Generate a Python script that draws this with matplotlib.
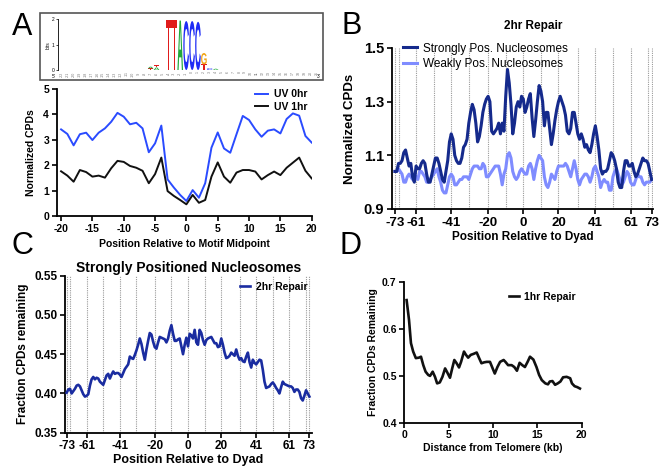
import matplotlib
matplotlib.use("Agg")
import matplotlib.pyplot as plt
import numpy as np
from matplotlib.textpath import TextPath
from matplotlib.patches import PathPatch, Rectangle
from matplotlib.font_manager import FontProperties
import matplotlib.transforms as mtransforms
from matplotlib.ticker import FormatStrFormatter

plt.rcParams['font.family'] = ['Liberation Sans', 'DejaVu Sans']
plt.rcParams['font.weight'] = 'bold'
plt.rcParams['axes.labelweight'] = 'bold'
plt.rcParams['axes.unicode_minus'] = False

W, H = 663, 468

# ---------------- data ----------------
# Panel A logo
logo_pos = [15, 15, 16, 16, 18, 19, 20, 21, 22, 23, 24, 24, 25, 26]
logo_letter = ['T', 'A', 'A', 'T', 'T', 'T', 'A', 'C', 'C', 'C', 'T', 'G', 'C', 'A']
logo_height = [0.06, 0.07, 0.10, 0.08, 1.97, 1.97, 1.95, 1.93, 1.93, 1.90, 0.22, 0.45, 0.07, 0.05]
logo_colors = {'A': '#22a83a', 'C': '#1e2cf5', 'G': '#f2a516', 'T': '#e01b1b'}
logo_labels = [str(i) for i in range(-22, 22)]

# Panel A lines
a_x = list(range(-20, 21))
a_uv0 = [3.41, 3.23, 2.78, 3.22, 3.28, 2.99, 3.28, 3.45, 3.71, 4.06, 3.91, 3.61, 3.67, 3.45,
         2.51, 2.86, 3.56, 1.44, 1.12, 0.83, 0.59, 1.02, 0.72, 1.29, 2.69, 3.29, 2.66, 2.49,
         3.22, 3.94, 3.78, 3.41, 3.12, 3.36, 3.41, 3.25, 3.82, 4.04, 3.95, 3.15, 2.89]
a_uv1 = [1.76, 1.59, 1.35, 1.81, 1.73, 1.55, 1.59, 1.51, 1.88, 2.17, 2.13, 1.97, 1.90, 1.78,
         1.29, 1.65, 2.30, 0.98, 0.79, 0.63, 0.46, 0.83, 0.52, 0.63, 1.55, 2.11, 1.55, 1.31,
         1.71, 1.81, 1.81, 1.75, 1.44, 1.61, 1.75, 1.61, 1.90, 2.10, 2.30, 1.78, 1.48]

# Panel B / C positions
dyad_x = list(range(-73, 74))
dyad_ticks = [-73, -61, -41, -20, 0, 20, 41, 61, 73]
dyad_grid = [-73, -71, -61, -51, -41, -31, -20, -10, 0, 10, 20, 31, 41, 51, 61, 71, 73]

b_strong = [1.04, 1.04, 1.07, 1.07, 1.08, 1.11, 1.12, 1.09, 1.06, 1.07,
            1.02, 1.00, 1.06, 1.05, 1.05, 1.07, 1.08, 1.07, 1.03, 1.00,
            1.00, 1.03, 1.06, 1.09, 1.09, 1.07, 1.04, 1.01, 1.00, 1.04,
            1.08, 1.15, 1.18, 1.16, 1.10, 1.08, 1.07, 1.07, 1.09, 1.13,
            1.14, 1.16, 1.22, 1.26, 1.29, 1.27, 1.22, 1.15, 1.17, 1.21,
            1.26, 1.29, 1.31, 1.32, 1.30, 1.19, 1.18, 1.19, 1.20, 1.22,
            1.18, 1.22, 1.19, 1.32, 1.42, 1.37, 1.29, 1.18, 1.22, 1.28,
            1.30, 1.28, 1.32, 1.31, 1.26, 1.28, 1.31, 1.33, 1.24, 1.17,
            1.23, 1.30, 1.36, 1.34, 1.30, 1.21, 1.26, 1.26, 1.20, 1.14,
            1.18, 1.23, 1.27, 1.30, 1.32, 1.30, 1.28, 1.25, 1.19, 1.18,
            1.20, 1.26, 1.26, 1.22, 1.18, 1.16, 1.18, 1.16, 1.13, 1.14,
            1.12, 1.11, 1.14, 1.18, 1.21, 1.17, 1.12, 1.05, 1.03, 1.04,
            1.04, 1.05, 1.08, 1.11, 1.10, 1.08, 1.05, 1.00, 0.98, 0.98,
            1.04, 1.08, 1.08, 1.06, 1.06, 1.07, 1.04, 1.02, 1.03, 1.05,
            1.07, 1.09, 1.08, 1.08, 1.07, 1.04, 1.01]
b_weak = [1.04, 1.04, 1.05, 1.04, 1.03, 1.00, 1.00, 1.02, 1.03, 1.02,
          1.01, 1.03, 1.02, 1.01, 1.04, 1.04, 1.03, 1.02, 1.00, 1.00,
          1.01, 1.02, 1.03, 1.04, 1.05, 1.02, 1.00, 0.97, 0.96, 0.96,
          0.99, 1.02, 1.03, 1.02, 0.99, 0.99, 1.00, 1.01, 1.01, 1.02,
          1.02, 1.02, 1.01, 1.03, 1.05, 1.06, 1.06, 1.06, 1.05, 1.05,
          1.07, 1.06, 1.02, 1.02, 1.03, 1.04, 1.05, 1.06, 1.06, 1.06,
          1.03, 0.99, 1.03, 1.05, 1.10, 1.11, 1.09, 1.04, 1.02, 1.01,
          1.02, 1.04, 1.05, 1.04, 1.03, 1.03, 1.06, 1.07, 1.05, 1.01,
          1.05, 1.08, 1.10, 1.09, 1.08, 1.02, 0.99, 0.98, 1.00, 1.03,
          1.02, 1.01, 1.04, 1.06, 1.06, 1.06, 1.06, 1.07, 1.06, 1.04,
          1.02, 1.05, 1.08, 1.05, 1.01, 0.99, 1.01, 1.02, 1.03, 1.03,
          1.02, 1.00, 1.02, 1.05, 1.06, 1.04, 1.02, 0.98, 1.00, 1.01,
          1.00, 1.00, 0.97, 0.97, 1.02, 1.04, 1.05, 1.03, 1.01, 0.99,
          1.00, 1.02, 1.04, 1.03, 1.00, 0.99, 0.99, 1.01, 1.03, 1.02,
          1.02, 1.00, 0.99, 1.00, 1.00, 1.00, 1.01]

c_strong = [0.401, 0.405, 0.406, 0.400, 0.403, 0.406, 0.410, 0.411, 0.409, 0.404,
            0.399, 0.396, 0.397, 0.399, 0.410, 0.418, 0.421, 0.418, 0.420, 0.419,
            0.415, 0.413, 0.411, 0.417, 0.423, 0.425, 0.419, 0.424, 0.428, 0.425,
            0.426, 0.426, 0.424, 0.421, 0.426, 0.431, 0.434, 0.437, 0.447, 0.445,
            0.444, 0.449, 0.455, 0.462, 0.470, 0.463, 0.452, 0.443, 0.456, 0.467,
            0.477, 0.475, 0.466, 0.459, 0.457, 0.465, 0.472, 0.471, 0.470, 0.469,
            0.465, 0.470, 0.480, 0.487, 0.476, 0.467, 0.467, 0.469, 0.470, 0.460,
            0.450, 0.462, 0.471, 0.460, 0.476, 0.474, 0.470, 0.481, 0.465, 0.462,
            0.481, 0.477, 0.468, 0.462, 0.468, 0.470, 0.471, 0.472, 0.468, 0.464,
            0.464, 0.459, 0.460, 0.470, 0.462, 0.452, 0.445, 0.446, 0.448, 0.452,
            0.450, 0.448, 0.456, 0.448, 0.443, 0.445, 0.441, 0.440, 0.447, 0.452,
            0.440, 0.433, 0.443, 0.439, 0.437, 0.440, 0.443, 0.442, 0.430, 0.415,
            0.407, 0.408, 0.409, 0.412, 0.414, 0.411, 0.407, 0.404, 0.400, 0.408,
            0.415, 0.412, 0.411, 0.410, 0.409, 0.409, 0.407, 0.402, 0.405, 0.405,
            0.402, 0.394, 0.391, 0.397, 0.404, 0.400, 0.396]

# Panel D
d_kb = [0.26, 0.53, 0.75, 1.0, 1.3, 1.65, 1.88, 2.14, 2.4, 2.7, 2.9, 3.2, 3.46, 3.7, 4.0,
        4.3, 4.6, 4.8, 5.15, 5.4, 5.64, 5.9, 6.17, 6.4, 6.73, 6.95, 7.2, 7.5, 7.8, 8.16,
        8.46, 8.7, 9.0, 9.3, 9.66, 9.96, 10.2, 10.5, 10.8, 11.2, 11.4, 11.7, 12.1, 12.4,
        12.7, 13.0, 13.3, 13.6, 13.9, 14.17, 14.55, 14.9, 15.2, 15.5, 15.9, 16.2, 16.4,
        16.7, 17.0, 17.3, 17.6, 17.9, 18.3, 18.7, 18.9, 19.2, 19.5, 19.8]
d_frac = [0.662, 0.620, 0.570, 0.552, 0.538, 0.539, 0.541, 0.523, 0.509, 0.502, 0.500,
          0.509, 0.498, 0.484, 0.486, 0.498, 0.516, 0.509, 0.496, 0.516, 0.534, 0.527,
          0.518, 0.530, 0.552, 0.545, 0.539, 0.545, 0.547, 0.550, 0.537, 0.527, 0.529,
          0.530, 0.530, 0.516, 0.505, 0.519, 0.530, 0.534, 0.530, 0.523, 0.523, 0.519,
          0.511, 0.528, 0.523, 0.519, 0.530, 0.541, 0.535, 0.519, 0.502, 0.491, 0.484,
          0.482, 0.488, 0.489, 0.481, 0.484, 0.488, 0.497, 0.498, 0.495, 0.484, 0.478,
          0.476, 0.473]

# colors
C_UV0 = '#2a4bff'
C_UV1 = '#111111'
C_STRONG = '#152a8c'
C_WEAK = '#7f8cff'
C_C = '#1a2ca0'


def rect(l, t, r, b):
    return [l / W, 1 - b / H, (r - l) / W, (b - t) / H]


fig = plt.figure(figsize=(W / 100, H / 100), dpi=100)

# ---------------- panel letters ----------------
for lab, x, y in [('A', 22, 27), ('B', 352, 26), ('C', 22, 246), ('D', 351, 246)]:
    fig.text(x / W, 1 - y / H, lab, fontsize=22, fontweight='normal', ha='center', va='center')

# ---------------- logo ----------------
fig.add_artist(Rectangle((40 / W, 1 - 80 / H), 282.7 / W, 66.7 / H, transform=fig.transFigure,
                         facecolor='none', edgecolor='#555555', lw=1.2))
axl = fig.add_axes(rect(58.3, 19.3, 319.3, 70))
axl.set_xlim(-0.1, 44)
axl.set_ylim(0, 2)
for s in ['top', 'right', 'bottom']:
    axl.spines[s].set_visible(False)
axl.spines['left'].set_linewidth(0.6)
axl.set_yticks([0, 1, 2])
axl.set_yticklabels(['0', '1', '2'], fontsize=3.5, fontweight='normal')
axl.tick_params(axis='y', length=1.5, width=0.5, pad=1)
axl.set_xticks([])
axl.set_ylabel('bits', fontsize=3.5, fontweight='normal', labelpad=1)

fp = FontProperties(family='Liberation Sans', weight='bold')
stack = {}
for p, ch, h in zip(logo_pos, logo_letter, logo_height):
    base = stack.get(p, 0.0)
    tp = TextPath((0, 0), ch, size=1, prop=fp)
    bb = tp.get_extents()
    tr = (mtransforms.Affine2D().translate(-bb.x0, -bb.y0)
          .scale(0.95 / bb.width, h / bb.height).translate(p + 0.025, base))
    axl.add_patch(PathPatch(tr.transform_path(tp), facecolor=logo_colors[ch], edgecolor='none'))
    stack[p] = base + h
for i, lab in enumerate(logo_labels):
    axl.text(i + 0.5, -0.05, lab, fontsize=2.6, color='#777777', rotation=90,
             ha='center', va='top', fontweight='normal', clip_on=False)
fig.text(54 / W, 1 - 76 / H, "5'", fontsize=3.5, fontweight='normal', ha='center', va='center')
fig.text(319 / W, 1 - 76 / H, "3'", fontsize=3.5, fontweight='normal', ha='center', va='center')


def style(ax, fs):
    for s in ['top', 'right']:
        ax.spines[s].set_visible(False)
    for s in ['left', 'bottom']:
        ax.spines[s].set_linewidth(1.3)
    ax.tick_params(width=1.2, length=3.5, labelsize=fs, pad=2)
    for lbl in ax.get_xticklabels() + ax.get_yticklabels():
        lbl.set_fontweight('bold')


# ---------------- panel A ----------------
axa = fig.add_axes(rect(56.7, 89, 311.7, 216))
axa.plot(a_x, a_uv0, color=C_UV0, lw=1.4, label='UV 0hr')
axa.plot(a_x, a_uv1, color=C_UV1, lw=1.4, label='UV 1hr')
axa.set_xlim(-20.7, 20)
axa.set_ylim(0, 5)
axa.set_xticks([-20, -15, -10, -5, 0, 5, 10, 15, 20])
axa.set_yticks([0, 1, 2, 3, 4, 5])
style(axa, 7.5)
axa.set_xlabel('Position Relative to Motif Midpoint', fontsize=7.5, labelpad=4)
axa.set_ylabel('Normalized CPDs', fontsize=7.5, labelpad=5)
axa.legend(loc='upper right', bbox_to_anchor=(1.02, 1.07), frameon=False, handlelength=1.2,
           handletextpad=0.6, labelspacing=0.25, prop={'weight': 'bold', 'size': 7.5})

# ---------------- panel B ----------------
axb = fig.add_axes(rect(392, 48, 653, 209))
for g in dyad_grid:
    axb.axvline(g, color='#9a9a9a', lw=0.8, ls=(0, (1, 1)), zorder=0)
axb.plot(dyad_x, b_strong, color=C_STRONG, lw=2.2, label='Strongly Pos. Nucleosomes', zorder=3)
axb.plot(dyad_x, b_weak, color=C_WEAK, lw=2.2, label='Weakly Pos. Nucleosomes', zorder=2)
axb.set_xlim(-74.7, 73.8)
axb.set_ylim(0.9, 1.5)
axb.set_xticks(dyad_ticks)
axb.set_yticks([0.9, 1.1, 1.3, 1.5])
axb.yaxis.set_major_formatter(FormatStrFormatter('%.1f'))
style(axb, 9.5)
axb.tick_params(axis='y', labelsize=10.5)
axb.set_xlabel('Position Relative to Dyad', fontsize=8.5, labelpad=2)
axb.set_ylabel('Normalized CPDs', fontsize=9.5, labelpad=6)
axb.set_title('2hr Repair', fontsize=8.5, fontweight='bold', pad=14, x=0.54)
axb.legend(loc='upper left', bbox_to_anchor=(0.0, 1.1), frameon=False, handlelength=1.2,
           handletextpad=0.5, labelspacing=0.3, prop={'weight': 'normal', 'size': 8.5})

# ---------------- panel C ----------------
axc = fig.add_axes(rect(65, 275.7, 311.7, 432.7))
for g in dyad_grid:
    axc.axvline(g, color='#9a9a9a', lw=0.8, ls=(0, (1, 1)), zorder=0)
axc.plot(dyad_x, c_strong, color=C_C, lw=1.9, label='2hr Repair', zorder=3)
axc.set_xlim(-74, 74.4)
axc.set_ylim(0.35, 0.55)
axc.set_xticks(dyad_ticks)
axc.set_yticks([0.35, 0.40, 0.45, 0.50, 0.55])
axc.yaxis.set_major_formatter(FormatStrFormatter('%.2f'))
style(axc, 8.5)
axc.set_xlabel('Position Relative to Dyad', fontsize=9, labelpad=1)
axc.set_ylabel('Fraction CPDs remaining', fontsize=8.5, labelpad=4)
axc.set_title('Strongly Positioned Nucleosomes', fontsize=10, fontweight='bold', pad=3)
axc.legend(loc='upper right', bbox_to_anchor=(1.02, 1.02), frameon=False, handlelength=1.0,
           handletextpad=0.5, prop={'weight': 'bold', 'size': 7.5})

# ---------------- panel D ----------------
axd = fig.add_axes(rect(404.3, 282.3, 581.7, 422.7))
axd.plot(d_kb, d_frac, color='#111111', lw=1.9, label='1hr Repair')
axd.set_xlim(0, 20)
axd.set_ylim(0.4, 0.7)
axd.set_xticks([0, 5, 10, 15, 20])
axd.set_yticks([0.4, 0.5, 0.6, 0.7])
axd.yaxis.set_major_formatter(FormatStrFormatter('%.1f'))
style(axd, 7.5)
axd.set_xlabel('Distance from Telomere (kb)', fontsize=7.5, labelpad=2)
axd.set_ylabel('Fraction CPDs Remaining', fontsize=7.5, labelpad=3)
axd.legend(loc='upper right', bbox_to_anchor=(1.02, 1.0), frameon=False, handlelength=1.0,
           handletextpad=0.5, prop={'weight': 'bold', 'size': 7.5})

fig.savefig('out.png', dpi=100)
